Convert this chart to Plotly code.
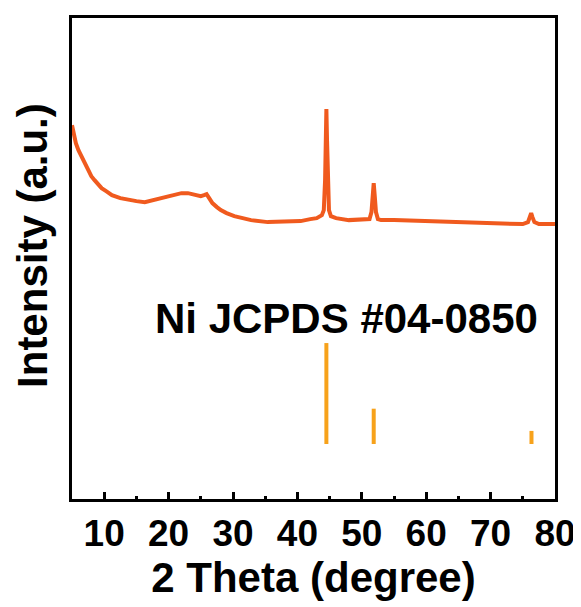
import plotly.graph_objects as go

# XRD pattern (2 theta in degree, intensity in a.u.)
two_theta = [5.0, 5.3, 5.6, 6.0, 6.5, 7.0, 7.5, 8.0, 8.5, 9.0, 9.6, 10.3, 11.2, 12.5, 13.8,
             15.0, 16.3, 17.5, 18.9, 20.0, 20.9, 22.0, 23.0, 24.0, 25.0, 25.5, 25.9, 26.3,
             26.8, 27.5, 28.1, 29.0, 30.2, 31.5, 32.8, 35.4, 37.9, 40.5, 42.0, 43.0, 43.8,
             44.1, 44.3, 44.4, 44.5, 44.6, 44.7, 44.9, 45.2, 46.0, 48.0, 50.0, 51.2, 51.5,
             51.7, 51.85, 52.0, 52.2, 52.5, 53.0, 55.0, 60.0, 65.0, 70.0, 75.0, 75.8, 76.1,
             76.3, 76.5, 76.8, 77.5, 80.0]
intensity = [375, 365, 357, 350, 343, 336, 330, 324, 320, 316, 312, 309, 305, 302, 300,
             299, 298, 300, 302, 304, 306, 307, 307, 306, 304, 305, 306, 302,
             297, 293, 290, 287, 284, 282, 280, 278, 278, 279, 281, 282, 285,
             290, 320, 360, 391, 360, 320, 290, 284, 282, 280, 280, 281, 288,
             305, 317, 305, 288, 281, 280, 280, 279, 278, 276, 276, 278, 283,
             287, 283, 278, 276, 276]

# Ni JCPDS #04-0850 reference lines
ref_pos = [44.5, 51.85, 76.35]
ref_rel = [100, 35, 13]
ref_label = "Ni JCPDS #04-0850"

x_ticks = [10, 20, 30, 40, 50, 60, 70, 80]

REF_BASE = 56
REF_SCALE = 1.01

stick_x, stick_y = [], []
for p, r in zip(ref_pos, ref_rel):
    stick_x += [p, p, None]
    stick_y += [REF_BASE, REF_BASE + r * REF_SCALE, None]

FONT = "Liberation Sans, Arial, sans-serif"

fig = go.Figure()
fig.add_trace(go.Scatter(x=two_theta, y=intensity, mode="lines",
                         line=dict(color="#F05A1E", width=4), showlegend=False))
fig.add_trace(go.Scatter(x=stick_x, y=stick_y, mode="lines",
                         line=dict(color="#F7A21B", width=4), showlegend=False))

fig.add_annotation(x=47.7, y=182, xref="x", yref="y", text="<b>" + ref_label + "</b>",
                   showarrow=False, font=dict(family=FONT, size=42, color="black"))
fig.add_annotation(x=-0.083, y=0.528, xref="paper", yref="paper", textangle=-90,
                   xanchor="center", yanchor="middle",
                   text="<b>Intensity (a.u.)</b>", showarrow=False,
                   font=dict(family=FONT, size=42, color="black"))

fig.update_layout(
    width=573, height=599,
    margin=dict(l=63.5, r=26, t=10, b=108, autoexpand=False),
    plot_bgcolor="white", paper_bgcolor="white",
    font=dict(family=FONT, color="black"),
    xaxis=dict(range=[5, 80], tickvals=x_ticks, ticktext=["<b>%d</b>" % t for t in x_ticks],
               automargin=False,
               ticks="inside", ticklen=7, tickwidth=2.5, tickcolor="black",
               showline=True, linewidth=3, linecolor="black", mirror=True,
               showgrid=False, zeroline=False,
               tickfont=dict(family=FONT, size=37, color="black"),
               minor=dict(dtick=5, tick0=5, ticks="inside", ticklen=3.5, tickwidth=2.5,
                          tickcolor="black"),
               title=dict(text="<b>2 Theta (degree)</b>", standoff=6,
                          font=dict(family=FONT, size=42, color="black"))),
    yaxis=dict(range=[1, 482.2], showticklabels=False, ticks="", automargin=False,
               showline=True, linewidth=3, linecolor="black", mirror=True,
               showgrid=False, zeroline=False),
)

fig.write_html("out.html")
